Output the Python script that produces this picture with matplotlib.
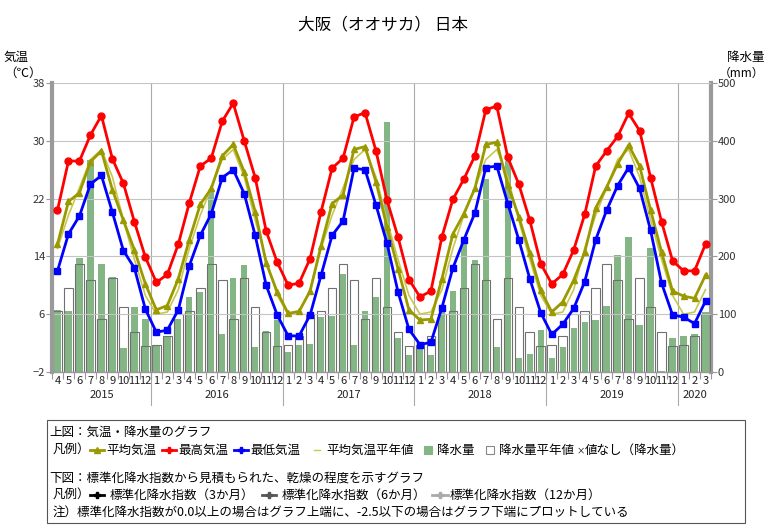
import matplotlib
matplotlib.use('Agg')
import matplotlib.pyplot as plt
import matplotlib.transforms as mtransforms
from matplotlib.lines import Line2D
from matplotlib.patches import Rectangle
import numpy as np

plt.rcParams['font.family'] = ['Noto Sans CJK JP', 'DejaVu Sans']

# ---------------- data ----------------
month_labels = [4, 5, 6, 7, 8, 9, 10, 11, 12] + list(range(1, 13)) * 4 + [1, 2, 3]
years = ['2015', '2016', '2017', '2018', '2019', '2020']
year_month_counts = [9, 12, 12, 12, 12, 3]

t_max = [20.4, 27.2, 27.2, 30.8, 33.5, 27.5, 24.1, 18.8, 13.9,
         10.4, 11.5, 15.7, 21.4, 26.5, 27.6, 32.7, 35.2, 30.0, 24.9, 17.5, 13.2,
         10.0, 10.3, 13.7, 20.2, 26.2, 27.6, 33.3, 33.9, 28.6, 21.8, 16.7, 10.8,
         8.4, 9.2, 16.7, 21.9, 24.7, 27.9, 34.3, 34.8, 27.7, 24.0, 19.0, 13.0,
         10.2, 11.5, 14.9, 19.8, 26.5, 28.6, 30.6, 33.8, 31.4, 24.9, 18.8, 13.4,
         12.0, 12.0, 15.7]
t_mean = [15.7, 21.6, 22.8, 27.1, 28.6, 23.2, 19.0, 14.9, 10.2,
          6.6, 7.2, 10.9, 16.3, 21.2, 23.4, 27.9, 29.5, 25.7, 20.2, 13.1, 9.1,
          6.1, 6.4, 9.2, 15.5, 21.3, 22.5, 28.8, 29.2, 24.3, 18.1, 12.3, 6.6,
          5.2, 5.3, 10.9, 17.1, 19.9, 23.4, 29.5, 29.8, 23.9, 19.5, 14.5, 9.3,
          6.3, 7.7, 10.7, 14.6, 20.7, 23.6, 26.8, 29.4, 26.5, 20.4, 14.6, 9.2,
          8.5, 8.2, 11.4]
t_min = [12.0, 17.1, 19.6, 24.0, 25.2, 20.1, 14.8, 12.4, 6.7,
         3.5, 3.8, 6.6, 12.7, 16.9, 19.9, 24.9, 26.0, 22.7, 16.9, 10.0, 5.9,
         3.0, 3.0, 5.9, 11.4, 16.9, 18.9, 26.2, 26.0, 21.1, 15.8, 9.1, 3.9,
         1.8, 2.1, 6.9, 12.4, 16.3, 20.0, 26.3, 26.5, 21.3, 16.3, 10.9, 6.2,
         3.2, 4.6, 6.8, 10.5, 16.3, 20.4, 23.8, 26.3, 23.4, 17.6, 10.3, 5.9,
         5.6, 4.7, 7.8]
# monthly normals, Jan..Dec
t_mean_normal = [6.0, 6.3, 9.4, 15.1, 19.7, 23.5, 27.4, 28.8, 25.0, 19.0, 13.6, 8.6]
precip = [108, 105, 197, 367, 187, 165, 41, 112, 91,
          47, 63, 91, 129, 138, 315, 66, 162, 185, 43, 71, 90,
          34, 47, 48, 95, 97, 169, 47, 105, 130, 433, 59, 30,
          44, 29, 103, 141, 222, 194, 334, 43, 365, 24, 31, 72,
          24, 43, 76, 87, 90, 115, 203, 234, 81, 215, 2, 59,
          62, 66, 103]
precip_normal = [46, 62, 100, 105, 146, 187, 159, 91, 162, 113, 70, 45]

# ---------------- figure ----------------
W, H = 766, 532
fig = plt.figure(figsize=(W / 100, H / 100), dpi=100)
L, R, T, B = 52, 711, 83, 372
ax = fig.add_axes([L / W, 1 - B / H, (R - L) / W, (B - T) / H])
ax2 = ax.twinx()
ax.set_zorder(ax2.get_zorder() + 1)
ax.patch.set_visible(False)

n = len(month_labels)
x = np.arange(n)
pn_series = [precip_normal[m - 1] for m in month_labels]
tn_series = [t_mean_normal[m - 1] for m in month_labels]

green = '#84b584'
ax2.bar(x, pn_series, width=0.78, color='white', edgecolor='none', zorder=1)
ax2.bar(x, precip, width=0.58, color=green, edgecolor='none', zorder=2)
ax2.bar(x, pn_series, width=0.78, fill=False, edgecolor='#707070', lw=0.8, zorder=3)
ax2.set_ylim(0, 500)
ax2.set_yticks(range(0, 501, 100))
ax2.tick_params(axis='y', length=4, width=0.8, color='#999999', labelsize=8,
                labelcolor='#333333', pad=1)
for s in ['top', 'bottom', 'left']:
    ax2.spines[s].set_visible(False)
ax2.spines['right'].set_color('#9a9a9a')
ax2.spines['right'].set_linewidth(3)

ax.plot(x, tn_series, color='#c8c850', lw=1.2, zorder=3)
ax.plot(x, t_mean, color='#9a9a00', lw=2, marker='^', ms=5, zorder=4)
ax.plot(x, t_max, color='#ff0000', lw=2, marker='o', ms=5, zorder=5)
ax.plot(x, t_min, color='#0000ff', lw=2, marker='s', ms=5, zorder=5)

ax.set_xlim(-0.5, n - 0.5)
ax.set_ylim(-2, 38)
ax.set_yticks([-2, 6, 14, 22, 30, 38])
ax.grid(axis='y', color='#c4c4c4', lw=0.8)
ax.tick_params(axis='y', length=4, width=0.8, color='#999999', labelsize=8,
               labelcolor='#333333', pad=1)
ax.set_xticks(x)
ax.set_xticklabels([str(m) for m in month_labels])
ax.tick_params(axis='x', length=0, labelsize=8, pad=3, labelcolor='#222222')
ax.set_xticks(np.arange(-0.5, n, 1), minor=True)
ax.tick_params(axis='x', which='minor', length=5, width=0.8, color='#999999')
for s in ['top', 'right']:
    ax.spines[s].set_visible(False)
ax.spines['left'].set_color('#9a9a9a')
ax.spines['left'].set_linewidth(3)
ax.spines['bottom'].set_color('#9a9a9a')
ax.spines['bottom'].set_linewidth(1)

# year separators and labels
trans = mtransforms.blended_transform_factory(ax.transData, ax.transAxes)
start = 0
for yr, cnt in zip(years, year_month_counts):
    center = start + (cnt - 1) / 2
    ax.text(center, -0.062, yr, transform=trans, ha='center', va='top', fontsize=8,
            color='#222222')
    start += cnt
    if start < n:
        ax.plot([start - 0.5, start - 0.5], [-0.115, 1], transform=trans,
                color='#aaaaaa', lw=0.8, clip_on=False, zorder=0)

# titles / axis labels
fig.text(0.5, 1 - 25 / H, '大阪（オオサカ） 日本', ha='center', va='center', fontsize=12)
fig.text(4 / W, 1 - 57 / H, '気温', ha='left', va='center', fontsize=9)
fig.text(4 / W, 1 - 73 / H, '（℃）', ha='left', va='center', fontsize=9)
fig.text(764 / W, 1 - 57 / H, '降水量', ha='right', va='center', fontsize=9)
fig.text(764 / W, 1 - 73 / H, '（mm）', ha='right', va='center', fontsize=8.5)

# ---------------- legend box ----------------
def fx(px):
    return px / W

def fy(py):
    return 1 - py / H

fig.add_artist(Rectangle((fx(47), fy(523)), fx(745) - fx(47), fy(420) - fy(523),
                         transform=fig.transFigure, fill=False, edgecolor='#555555', lw=0.8))
fs = 9

def txt(px, py, s):
    fig.text(fx(px), fy(py), s, ha='left', va='center', fontsize=fs)

def icon(px0, px1, py, color, marker, lw=2, ms=4):
    fig.add_artist(Line2D([fx(px0), fx(px1)], [fy(py), fy(py)], transform=fig.transFigure,
                          color=color, lw=lw))
    if marker:
        fig.add_artist(Line2D([fx((px0 + px1) / 2)], [fy(py)], transform=fig.transFigure,
                              color=color, marker=marker, ms=ms, lw=0))

def square(px, py, face, edge):
    fig.add_artist(Rectangle((fx(px), fy(py + 4)), fx(8), fy(0) - fy(8),
                             transform=fig.transFigure, facecolor=face, edgecolor=edge, lw=0.8))

txt(49, 432, '上図：気温・降水量のグラフ')
y1 = 450
txt(53, y1, '凡例）')
icon(90, 104, y1, '#9a9a00', '^')
txt(106, y1, '平均気温')
icon(162, 176, y1, '#ff0000', 'P')
txt(178, y1, '最高気温')
icon(234, 248, y1, '#0000ff', 'P')
txt(250, y1, '最低気温')
icon(314, 320, y1, '#c8c850', None, lw=1)
txt(326, y1, '平均気温平年値')
square(424, y1, green, green)
txt(437, y1, '降水量')
square(486, y1, 'white', '#888888')
txt(499, y1, '降水量平年値')
fig.text(fx(577), fy(y1 + 1), '×', ha='left', va='center', fontsize=6)
txt(585, y1, '値なし（降水量）')

txt(49, 478, '下図：標準化降水指数から見積もられた、乾燥の程度を示すグラフ')
y2 = 495
txt(53, y2, '凡例）')
icon(90, 104, y2, '#000000', 'P')
txt(110, y2, '標準化降水指数（3か月）')
icon(262, 276, y2, '#555555', 'P')
txt(282, y2, '標準化降水指数（6か月）')
icon(432, 448, y2, '#aaaaaa', 'P')
txt(450, y2, '標準化降水指数（12か月）')
txt(53, 512, '注）標準化降水指数が0.0以上の場合はグラフ上端に、-2.5以下の場合はグラフ下端にプロットしている')

fig.savefig('out.png', dpi=100)
